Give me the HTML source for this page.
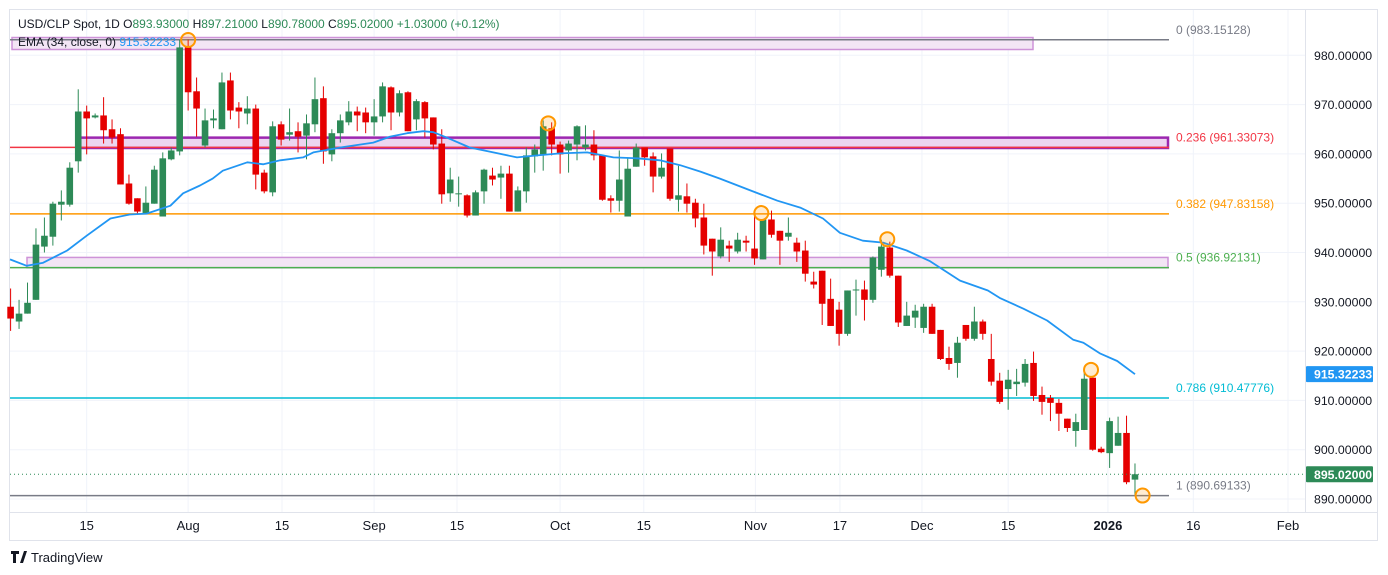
<!DOCTYPE html>
<html><head><meta charset="utf-8"><style>
html,body{margin:0;padding:0;background:#fff;}
svg{display:block;font-family:"Liberation Sans",sans-serif;}
</style></head><body>
<svg id="chart" xmlns="http://www.w3.org/2000/svg" width="1388" height="575" viewBox="0 0 1388 575">
<rect x="0" y="0" width="1388" height="575" fill="#fff"/>
<rect x="9.5" y="9.5" width="1368" height="531" fill="none" stroke="#e0e3eb"/>
<g id="grid"></g><g id="fibs"></g><g id="candles"></g><g id="ema"></g><g id="marks"></g><g id="axes"></g>
<text x="18" y="28" font-size="12" fill="#131722">USD/CLP Spot, 1D  O<tspan fill="#2d8a57">893.93000</tspan>  H<tspan fill="#2d8a57">897.21000</tspan>  L<tspan fill="#2d8a57">890.78000</tspan>  C<tspan fill="#2d8a57">895.02000</tspan>  <tspan fill="#2d8a57">+1.03000 (+0.12%)</tspan></text>
<text x="18" y="46" font-size="12" fill="#131722">EMA (34, close, 0) <tspan fill="#2196f3">915.32233</tspan></text>
<g>
<path d="M11 551h8v3h-3v9h-3v-9h-2z M20 563l4-12h3l-4 12z" fill="#131722"/>
<text x="31" y="562" font-size="13" fill="#131722">TradingView</text>
</g>
</svg>
<script>
const opens=[929.0,926.0,927.6,930.4,941.2,943.2,949.7,949.7,958.5,968.6,967.4,967.8,965.0,964.0,954.0,951.0,947.9,949.9,947.3,958.9,960.5,981.6,972.7,961.7,966.8,965.0,974.9,969.4,968.2,969.2,956.2,952.2,966.0,963.9,964.6,963.7,966.0,971.3,959.9,964.2,966.4,968.6,968.4,966.4,967.6,973.5,968.4,972.5,967.0,970.5,967.4,962.1,952.0,951.8,951.6,947.5,952.4,955.6,955.2,956.0,948.3,952.4,959.5,959.9,965.2,961.9,960.7,961.9,961.3,961.9,959.7,951.0,950.5,947.3,957.4,961.3,959.5,955.4,961.1,950.7,951.4,950.1,947.1,942.8,939.2,941.4,940.2,942.4,940.8,938.6,946.7,944.4,943.2,942.0,940.4,934.1,936.3,930.6,928.4,923.5,932.3,932.5,930.4,936.5,941.0,935.3,925.1,926.8,924.7,929.0,924.3,918.6,917.6,925.3,922.5,926.0,918.4,914.0,912.3,913.3,913.6,917.6,911.1,910.5,909.5,906.3,903.8,904.0,914.6,900.2,899.3,900.8,903.4,893.93];
const highs=[932.7,930.4,933.9,944.9,947.1,950.3,952.6,958.3,973.1,969.8,968.2,971.5,967.0,965.2,955.8,951.0,953.4,957.6,960.3,961.3,983.1,983.2,975.5,969.2,969.0,976.5,976.5,970.5,971.7,970.0,956.8,966.6,966.6,969.2,966.4,968.0,975.5,973.7,965.0,968.0,970.7,969.6,969.4,971.1,974.5,973.7,972.9,972.7,971.1,970.7,967.4,965.0,957.2,955.4,951.8,952.6,957.0,957.2,957.6,957.6,953.4,961.3,961.9,966.8,966.4,962.5,962.7,965.8,965.8,964.8,959.7,951.6,960.7,959.3,962.1,961.3,960.3,960.1,961.1,957.6,954.0,950.9,949.9,942.8,945.1,942.4,944.0,943.4,948.1,946.7,948.5,944.4,947.1,943.0,942.4,936.1,936.3,934.7,930.0,932.3,934.5,934.3,939.2,942.6,942.2,935.3,930.0,929.4,929.6,929.6,924.3,920.9,922.9,925.3,929.0,926.4,923.5,915.6,916.2,916.4,918.4,919.9,912.8,911.1,910.3,906.3,907.3,916.2,914.6,900.6,906.5,906.7,906.9,897.21];
const lows=[924.1,924.5,927.6,930.4,940.0,941.4,946.5,949.3,956.2,959.9,967.2,962.1,962.1,953.8,949.7,947.9,947.7,949.9,947.3,958.7,959.7,968.8,963.5,961.3,965.2,965.0,967.0,965.2,966.0,952.8,952.0,951.4,961.7,962.7,960.3,958.9,964.4,958.0,958.5,962.3,965.8,964.6,964.2,963.7,966.4,964.8,967.6,964.6,964.8,963.3,960.9,949.9,950.3,949.3,947.1,947.5,949.9,953.6,950.9,948.3,948.3,950.1,956.2,956.6,959.7,956.0,956.2,958.7,960.7,958.7,950.5,948.1,948.3,947.3,957.4,957.6,952.2,955.0,950.5,948.3,948.1,945.1,939.6,935.3,938.8,938.1,939.8,940.2,937.5,938.6,943.0,937.5,942.4,938.1,934.1,932.7,925.3,925.1,921.1,923.1,927.2,926.2,929.8,935.1,934.9,924.9,925.1,924.7,923.7,923.5,918.2,916.2,914.6,922.1,922.1,922.3,913.0,909.3,908.1,910.9,912.8,909.9,907.1,905.8,903.8,903.6,900.6,904.0,899.8,899.3,896.3,900.8,893.0,890.78];
const closes=[926.6,927.6,929.8,941.6,943.4,949.9,950.3,957.2,968.6,967.2,967.8,964.8,963.3,953.8,949.9,948.3,950.1,956.8,959.1,960.7,981.6,972.5,969.2,966.8,967.2,974.5,968.8,968.6,969.2,955.8,952.4,965.6,962.9,964.4,963.5,966.2,971.1,960.5,964.2,966.8,968.6,967.8,966.4,967.6,973.7,968.4,972.3,964.6,970.7,967.2,961.9,951.8,954.8,952.0,947.5,952.2,956.8,954.8,956.0,948.3,952.6,959.7,960.9,965.6,961.9,959.9,962.1,965.6,961.9,959.7,950.7,950.5,954.8,957.0,961.3,959.3,955.4,957.2,950.9,951.6,949.9,946.9,941.4,940.2,942.6,940.8,942.6,942.0,938.8,946.7,943.6,942.4,944.0,940.2,935.7,933.5,929.6,925.1,923.5,932.3,932.5,930.4,939.0,941.2,935.3,925.8,927.2,928.2,929.0,923.5,918.4,917.4,921.7,922.5,926.0,923.5,913.8,909.7,914.2,913.8,917.4,910.9,909.7,909.5,907.3,904.4,905.6,914.4,900.0,899.5,905.8,903.4,893.4,895.02];
const emaIdx=[-0.1,1.9,3.8,6.7,9.0,11.8,14.1,16.1,18.9,20.4,22.4,23.9,25.1,28.0,29.9,31.9,34.6,35.8,39.0,42.9,44.9,46.9,48.8,50.0,51.6,54.3,57.1,59.9,62.3,65.0,68.2,71.3,74.1,76.8,79.2,81.6,83.9,87.5,90.7,93.4,96.1,98.1,100.8,103.2,106.0,108.7,112.3,115.6,117.0,119.8,122.6,125.7,126.9,128.9,130.9,133.0];
const emaVals=[938.6,937.3,937.9,940.4,943.4,946.9,947.7,947.9,949.5,952.0,953.6,955.0,956.6,958.3,957.9,958.7,959.3,960.3,961.3,962.3,963.5,964.2,964.6,964.4,963.3,961.3,960.3,959.3,959.7,960.1,960.3,959.3,959.1,958.7,957.7,956.4,955.0,952.6,950.5,949.1,946.9,944.0,942.4,942.0,940.4,938.3,934.3,932.3,930.8,928.6,926.2,922.3,921.7,919.5,918.0,915.32233];
const priceTicks=[890,900,910,920,930,940,950,960,970,980];
const dateLabels=["15","Aug","15","Sep","15","Oct","15","Nov","17","Dec","15","2026","16","Feb"];
const dateIdx=[9.0,21.0,32.1,43.0,52.8,65.0,74.9,88.1,98.1,107.8,118.0,129.8,139.9,151.1];
const fibLevels=[0,0.236,0.382,0.5,0.786,1];
const fibPrices=[983.15128,961.33073,947.83158,936.92131,910.47776,890.69133];
const fibColors=["#787b86","#f23645","#ff9800","#4caf50","#00bcd4","#787b86"];
const circleIdx=[21,63.6,88.8,103.7,127.8,133.9];
const circlePrices=[983.1,966.2,948.0,942.7,916.2,890.7];

const NS="http://www.w3.org/2000/svg";
const PL=10,PR=1305,PT=10,PB=512;
function y(p){return 499-(p-890)*4.93;}
function x(i){return 10.6+i*8.454;}
function mk(parent,tag,attrs){const e=document.createElementNS(NS,tag);for(const k in attrs)e.setAttribute(k,attrs[k]);parent.appendChild(e);return e;}
const G=id=>document.getElementById(id);

priceTicks.forEach(p=>{
  const l=mk(G('grid'),'line',{x1:PL,x2:PR,y1:y(p),y2:y(p),stroke:'#f0f3fa','stroke-width':1});
  
  
  const t=mk(G('axes'),'text',{x:1314,y:y(p)+4.5,'font-size':12.3,fill:'#131722'});
  t.textContent=p.toFixed(5);
  
  
});
dateIdx.forEach((d,k)=>{
  const l=mk(G('grid'),'line',{x1:x(d),x2:x(d),y1:PT,y2:PB,stroke:'#f0f3fa','stroke-width':1});
  
  
  const t=mk(G('axes'),'text',{x:x(d),y:530,'font-size':13,fill:'#131722','text-anchor':'middle','font-weight':dateLabels[k]==='2026'?'bold':'normal'});
  t.textContent=dateLabels[k];
  
  
});
let ax=mk(G('axes'),'line',{x1:PL,x2:1378,y1:PB+0.5,y2:PB+0.5,stroke:'#e0e3eb'});


ax=mk(G('axes'),'line',{x1:PR+0.5,x2:PR+0.5,y1:PT,y2:PB,stroke:'#e0e3eb'});



let r=mk(G('fibs'),'rect',{x:12,y:y(983.0)-3,width:1021,height:12,fill:'#f3e5f5',stroke:'#ce93d8','stroke-width':1.5});


r=mk(G('fibs'),'rect',{x:80,y:y(963.3),width:1088,height:y(961.4)-y(963.3)+1,fill:'#ecd5f0',stroke:'#9c27b0','stroke-width':2.5});


r=mk(G('fibs'),'rect',{x:27,y:y(939.0),width:1141,height:y(936.9)-y(939.0),fill:'#f3e5f5',stroke:'#ce93d8','stroke-width':1.5});



fibPrices.forEach((p,k)=>{
  const l=mk(G('fibs'),'line',{x1:PL,x2:1169,y1:y(p),y2:y(p),stroke:fibColors[k],'stroke-width':1.5});
  
  
  const t=mk(G('fibs'),'text',{x:1176,y:y(p)-6,'font-size':12,fill:fibColors[k]});
  t.textContent=fibLevels[k]+' ('+p.toFixed(5)+')';
  
  
});

opens.forEach((o,i)=>{
  const c=closes[i],up=c>=o,col=up?'#2d8a57':'#e50000',cx=x(i);
  const g=mk(G('candles'),'g',{});
  
  
  mk(g,'line',{x1:cx,x2:cx,y1:y(highs[i]),y2:y(lows[i]),stroke:col,'stroke-width':1});
  const top=y(Math.max(o,c)),h=Math.max(1,y(Math.min(o,c))-top);
  mk(g,'rect',{x:cx-3.3,y:top,width:6.6,height:h,fill:col});
});

let d='';
emaIdx.forEach((i,k)=>{d+=(k?'L':'M')+Math.max(PL,x(i)).toFixed(1)+' '+y(emaVals[k]).toFixed(1);});
const em=mk(G('ema'),'path',{d:d,fill:'none',stroke:'#2196f3','stroke-width':1.8,'stroke-linejoin':'round'});



circleIdx.forEach((i,k)=>{
  const c=mk(G('marks'),'circle',{cx:x(i),cy:y(circlePrices[k]),r:7,fill:'rgba(255,152,0,0.18)',stroke:'#ff9800','stroke-width':2});
  
  
});

const last=closes[closes.length-1],lastEma=emaVals[emaVals.length-1];
const dl=mk(G('marks'),'line',{x1:PL,x2:PR,y1:y(last),y2:y(last),stroke:'#2d8a57','stroke-width':1,'stroke-dasharray':'1 3'});


[[lastEma,'#2196f3','ema-price-badge'],[last,'#2d8a57','last-price-badge']].forEach(([v,col,nm])=>{
  const g=mk(G('axes'),'g',{});
  
  
  mk(g,'rect',{x:1306,y:y(v)-8,width:67,height:16,fill:col,rx:1});
  const t=mk(g,'text',{x:1314,y:y(v)+4.5,'font-size':12.3,fill:'#fff','font-weight':'bold'});
  t.textContent=v.toFixed(5);
});
</script>
</body></html>
